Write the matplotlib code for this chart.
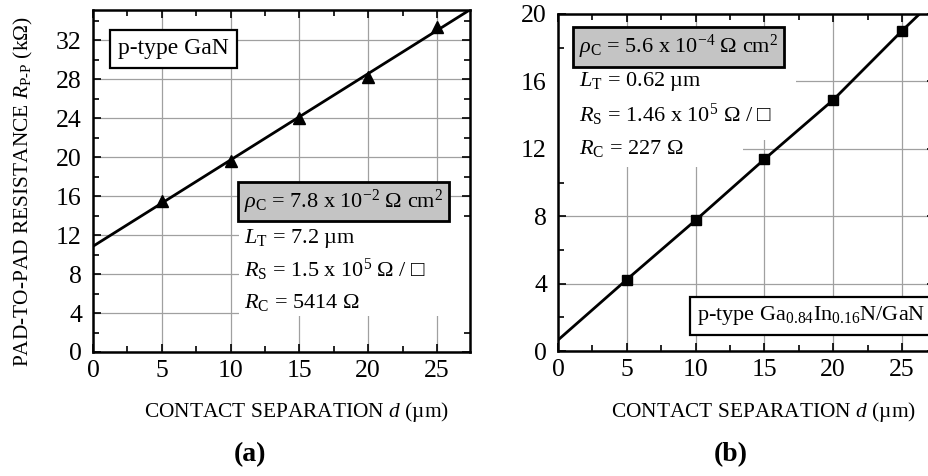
import numpy as np
import matplotlib
matplotlib.use('Agg')
import matplotlib.pyplot as plt
from matplotlib.patches import Rectangle

plt.rcParams['font.family'] = ['Liberation Serif', 'DejaVu Serif']
plt.rcParams['mathtext.fontset'] = 'custom'
plt.rcParams['mathtext.rm'] = 'Liberation Serif'
plt.rcParams['mathtext.it'] = 'Liberation Serif:italic'
plt.rcParams['mathtext.bf'] = 'Liberation Serif:bold'
plt.rcParams['mathtext.fallback'] = 'stix'

# contact separation (um)
d = [5, 10, 15, 20, 25]
# (a) p-type GaN, pad-to-pad resistance (kOhm)
r_a = [15.5, 19.6, 24.0, 28.2, 33.4]
fit_a = [0.886, 10.85]   # slope, intercept
# (b) p-type GaInN/GaN
r_b = [4.24, 7.76, 11.38, 14.9, 19.0]
# drawn line in (b)
line_b_d = [0, 5, 10, 15, 20, 25, 26.4]
line_b_r = [0.65, 4.24, 7.76, 11.38, 14.9, 19.0, 20.1]

x_ticks = [0, 5, 10, 15, 20, 25]
y_ticks_a = [0, 4, 8, 12, 16, 20, 24, 28, 32]
y_ticks_b = [0, 4, 8, 12, 16, 20]

info_a = [r'$\rho_{\mathrm{C}}$ = 7.8 x 10$^{-2}$ $\Omega$ cm$^{2}$',
          r'$L_{\mathrm{T}}$ = 7.2 µm',
          r'$R_{\mathrm{S}}$ = 1.5 x 10$^{5}$ $\Omega$ / □',
          r'$R_{\mathrm{C}}$ = 5414 $\Omega$']
info_b = [r'$\rho_{\mathrm{C}}$ = 5.6 x 10$^{-4}$ $\Omega$ cm$^{2}$',
          r'$L_{\mathrm{T}}$ = 0.62 µm',
          r'$R_{\mathrm{S}}$ = 1.46 x 10$^{5}$ $\Omega$ / □',
          r'$R_{\mathrm{C}}$ = 227 $\Omega$']

W, H = 929, 476
fig = plt.figure(figsize=(W / 100, H / 100), dpi=100)

def px_axes(l, t, r, b):
	return fig.add_axes([l / W, 1 - b / H, (r - l) / W, (b - t) / H])

def style(ax, ymax, yt):
	ax.set_xlim(0, 27.4)
	ax.set_ylim(0, ymax)
	ax.set_xticks(x_ticks)
	ax.set_xticks(np.arange(0, 27.5, 2.5), minor=True)
	ax.set_yticks(yt)
	ax.set_yticks(np.arange(0, ymax, 2), minor=True)
	ax.tick_params(which='both', direction='in', top=True, right=True, labelsize=18.5, width=1.2)
	ax.tick_params(which='major', length=6)
	ax.tick_params(which='minor', length=4)
	ax.tick_params(axis='x', pad=6)
	ax.tick_params(axis='y', pad=8)
	ax.grid(True, which='major', color='#a0a0a0', lw=0.9)
	ax.set_axisbelow(True)
	for s in ax.spines.values():
		s.set_linewidth(1.8)

def white(ax, x0, y0, x1, y1):
	# blank area behind text (axes fraction)
	ax.add_patch(Rectangle((x0, y0), x1 - x0, y1 - y0, transform=ax.transAxes,
			facecolor='white', edgecolor='none', zorder=1.5))

boxw = dict(boxstyle='square,pad=0.35', facecolor='white', edgecolor='black', lw=1.6)
boxg = dict(boxstyle='square,pad=0.25', facecolor='#c4c4c4', edgecolor='black', lw=2)

# ---- panel (a)
ax1 = px_axes(93, 10, 470, 352)
style(ax1, 35.1, y_ticks_a)
xx = np.array([0, 30])
ax1.plot(xx, fit_a[0] * xx + fit_a[1], color='black', lw=2, zorder=3)
ax1.plot(d, r_a, '^', color='black', ms=9, zorder=4)

ax1.text(0.067, 0.886, 'p-type GaN', transform=ax1.transAxes, fontsize=17,
		va='center', ha='left', bbox=boxw, zorder=5)
white(ax1, 0.387, 0.105, 1.0, 0.383)
ax1.text(0.40, 0.44, info_a[0], transform=ax1.transAxes, fontsize=16,
		va='center', ha='left', bbox=boxg, zorder=5)
for i, s in enumerate(info_a[1:]):
	ax1.text(0.40, 0.333 - i * 0.094, s, transform=ax1.transAxes, fontsize=16,
			va='center', ha='left', zorder=5)

# ---- panel (b)
ax2 = px_axes(558, 14, 935, 351)
style(ax2, 20, y_ticks_b)
ax2.plot(line_b_d, line_b_r, color='black', lw=2, zorder=3)
ax2.plot(d, r_b, 's', color='black', ms=7, zorder=4)

ax2.text(0.055, 0.902, info_b[0], transform=ax2.transAxes, fontsize=16,
		va='center', ha='left', bbox=boxg, zorder=5)
white(ax2, 0.0, 0.735, 0.63, 0.86)
white(ax2, 0.0, 0.626, 0.565, 0.735)
white(ax2, 0.0, 0.546, 0.49, 0.626)
for i, s in enumerate(info_b[1:]):
	ax2.text(0.055, 0.80 - i * 0.1, s, transform=ax2.transAxes, fontsize=16,
			va='center', ha='left', zorder=5)
ax2.text(0.37, 0.104, r'p-type Ga$_{0.84}$In$_{0.16}$N/GaN', transform=ax2.transAxes,
		fontsize=16, va='center', ha='left', bbox=boxw, zorder=5)

# ---- labels
fig.text(23 / W, 1 - 192 / H, r'PAD-TO-PAD RESISTANCE $R_{\mathrm{P}\text{-}\mathrm{P}}$ (k$\Omega$)',
		rotation=90, ha='center', va='center', fontsize=15.4)
fig.text(296 / W, 1 - 412 / H, r'CONTACT SEPARATION $d$ (µm)', ha='center', va='center', fontsize=15.4)
fig.text(763 / W, 1 - 412 / H, r'CONTACT SEPARATION $d$ (µm)', ha='center', va='center', fontsize=15.4)
fig.text(250 / W, 1 - 455 / H, '(a)', ha='center', va='center', fontsize=20, fontweight='bold')
fig.text(731 / W, 1 - 455 / H, '(b)', ha='center', va='center', fontsize=20, fontweight='bold')

fig.savefig('out.png', dpi=100)
